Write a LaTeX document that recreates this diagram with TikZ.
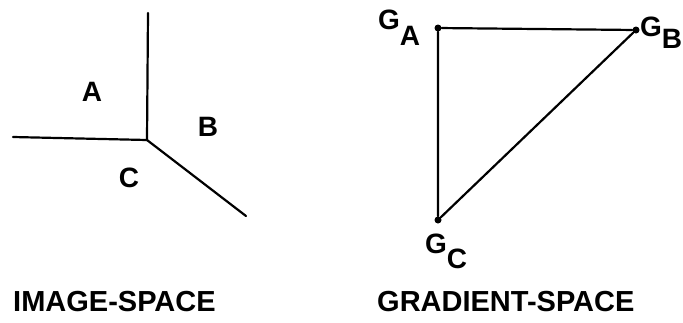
\documentclass[tikz,border=0pt]{standalone}
\usepackage{fontspec}
\setmainfont{Liberation Sans}
\usetikzlibrary{positioning}
\tikzset{
  edge/.style={line width=2.2pt,line cap=round},
  vertex/.style={circle,fill=black,inner sep=0pt,minimum size=7pt},
  region/.style={font=\fontsize{28}{32}\selectfont\bfseries,inner sep=0pt},
  caption/.style={font=\fontsize{29}{34}\selectfont\bfseries,inner sep=0pt,anchor=base west}
}
\newcommand{\GradLabel}[2]{G\raisebox{-#2}{#1}}
\begin{document}
\begin{tikzpicture}[x=1pt,y=-1pt]
  \useasboundingbox (0,0) rectangle (683,322);
  % image space: three regions meeting at a vertex
  \coordinate (J) at (147,140);
  \coordinate (Top) at (148,13);
  \coordinate (Left) at (13,137);
  \coordinate (Down) at (246,216);
  \draw[edge] (J) -- (Top);
  \draw[edge] (J) -- (Left);
  \draw[edge] (J) -- (Down);
  \node[region] (lA) at (92,92) {A};
  \node[region] (lB) at (208,127) {B};
  \node[region] (lC) at (129,178) {C};
  % gradient space
  \node[vertex] (GA) at (438,28) {};
  \node[vertex] (GB) at (636,30) {};
  \node[vertex] (GC) at (438,220) {};
  \draw[edge] (GA) -- (GB) -- (GC) -- (GA);
  \node[region,anchor=base west] (tGA) at (378,29) {\GradLabel{A}{16pt}};
  \node[region,anchor=base west] (tGB) at (640,36) {\GradLabel{B}{12pt}};
  \node[region,anchor=base west] (tGC) at (425,253) {\GradLabel{C}{15pt}};
  % captions
  \node[caption] (capI) at (13,311) {IMAGE-SPACE};
  \node[caption] (capG) at (377,311) {GRADIENT-SPACE};
\end{tikzpicture}
\end{document}
